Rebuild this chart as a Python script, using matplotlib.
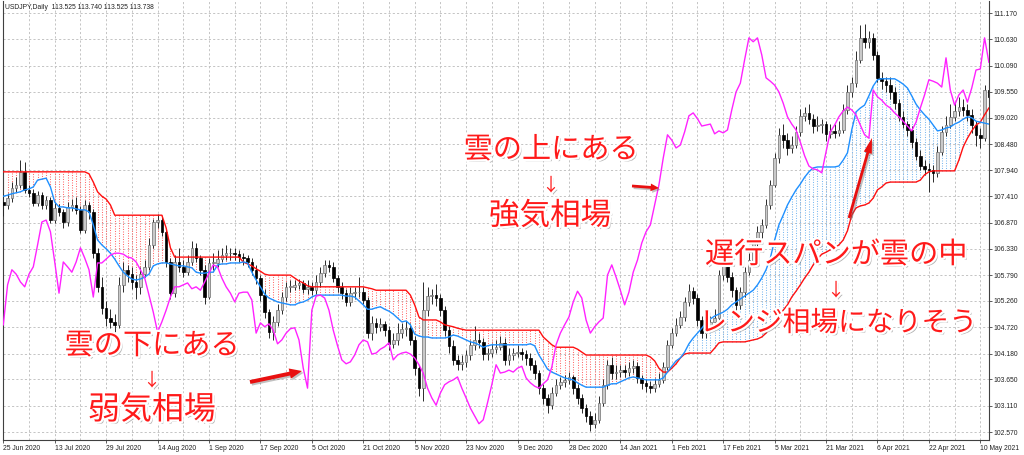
import matplotlib
matplotlib.use("Agg")
import matplotlib.pyplot as plt
import matplotlib.patheffects as pe
import numpy as np

# ---------------- data (USDJPY daily) ----------------
date_labels = ["25 Jun 2020", "13 Jul 2020", "29 Jul 2020", "14 Aug 2020", "1 Sep 2020",
               "17 Sep 2020", "5 Oct 2020", "21 Oct 2020", "5 Nov 2020", "23 Nov 2020",
               "9 Dec 2020", "28 Dec 2020", "14 Jan 2021", "1 Feb 2021", "17 Feb 2021",
               "5 Mar 2021", "21 Mar 2021", "6 Apr 2021", "22 Apr 2021", "10 May 2021"]

price_ticks = [102.57, 103.11, 103.65, 104.18, 104.72, 105.26, 105.79, 106.33, 106.87,
               107.41, 107.94, 108.48, 109.02, 109.55, 110.09, 110.63, 111.17]

opens = [107.30, 107.23, 107.37, 107.58, 107.64, 107.91, 107.54, 107.48, 107.27, 107.44,
         107.23, 107.33, 106.92, 107.17, 107.09, 106.88, 107.19, 107.23, 107.13, 106.72,
         107.23, 107.09, 106.24, 105.55, 105.12, 104.91, 104.83, 104.77, 105.59, 105.90,
         105.81, 105.65, 105.55, 105.81, 105.96, 106.41, 106.88, 106.92, 106.68, 106.06,
         105.42, 106.06, 105.96, 105.85, 106.06, 106.35, 106.14, 105.90, 105.34, 106.04,
         106.04, 106.12, 106.20, 106.24, 106.24, 106.22, 106.16, 106.14, 106.06, 105.90,
         105.73, 105.38, 105.03, 104.62, 104.83, 105.07, 105.34, 105.55, 105.55, 105.59,
         105.63, 105.51, 105.55, 105.48, 105.65, 105.83, 106.00, 105.96, 105.73, 105.55,
         105.42, 105.24, 105.42, 105.44, 105.44, 105.28, 104.60, 104.81, 104.73, 104.79,
         104.66, 104.38, 104.46, 104.60, 104.69, 104.71, 104.46, 103.88, 103.47, 105.07,
         105.36, 105.38, 105.32, 105.07, 104.66, 104.34, 104.05, 103.97, 104.01, 104.15,
         104.36, 104.46, 104.42, 104.17, 104.19, 104.27, 104.32, 104.40, 104.05, 104.15,
         104.19, 104.21, 104.17, 104.09, 103.95, 103.78, 103.47, 103.27, 103.12, 103.37,
         103.54, 103.60, 103.64, 103.70, 103.47, 103.27, 103.06, 102.90, 102.74, 102.82,
         103.17, 103.54, 103.95, 103.78, 103.80, 103.84, 103.80, 103.88, 103.92, 103.68,
         103.58, 103.51, 103.47, 103.56, 103.64, 103.90, 104.36, 104.60, 104.77, 104.93,
         105.24, 105.46, 105.32, 104.87, 104.60, 104.73, 104.83, 104.91, 105.79, 106.00,
         105.75, 105.48, 105.18, 105.44, 105.85, 106.10, 106.45, 106.68, 106.82, 107.23,
         107.64, 108.19, 108.67, 108.56, 108.40, 108.46, 108.73, 109.06, 109.12, 109.00,
         108.85, 108.87, 108.89, 108.69, 108.75, 108.71, 108.77, 109.18, 109.55, 109.73,
         110.21, 110.66, 110.58, 110.66, 110.31, 109.84, 109.77, 109.69, 109.55, 109.32,
         109.04, 108.89, 108.77, 108.52, 108.24, 108.03, 107.97, 107.95, 107.89, 108.32,
         108.73, 108.87, 109.04, 109.16, 109.24, 109.18, 109.08, 108.87, 108.67, 108.60,
         109.59]

highs = [107.45, 107.48, 107.70, 107.80, 108.15, 108.12, 107.65, 107.55, 107.52, 107.50,
         107.42, 107.40, 107.30, 107.25, 107.15, 107.30, 107.35, 107.40, 107.20, 107.33,
         107.30, 107.15, 106.35, 105.75, 105.25, 105.10, 105.00, 105.75, 106.05, 106.00,
         105.95, 105.80, 105.95, 106.10, 106.55, 106.95, 107.05, 107.00, 106.75, 106.15,
         106.20, 106.35, 106.10, 106.20, 106.50, 106.45, 106.20, 106.00, 106.15, 106.25,
         106.30, 106.35, 106.40, 106.35, 106.35, 106.30, 106.25, 106.20, 106.15, 106.00,
         105.80, 105.50, 105.10, 104.95, 105.20, 105.45, 105.65, 105.70, 105.70, 105.72,
         105.70, 105.68, 105.65, 105.80, 105.95, 106.10, 106.10, 106.05, 105.80, 105.65,
         105.50, 105.55, 105.55, 105.75, 105.55, 105.35, 104.95, 104.90, 104.90, 104.85,
         104.75, 104.60, 104.80, 104.80, 104.85, 104.80, 104.55, 103.95, 105.65, 105.55,
         105.50, 105.60, 105.40, 105.15, 104.75, 104.45, 104.15, 104.15, 104.25, 104.45,
         104.75, 104.60, 104.50, 104.30, 104.40, 104.45, 104.55, 104.50, 104.30, 104.30,
         104.35, 104.30, 104.25, 104.20, 104.05, 103.85, 103.55, 103.35, 103.50, 103.65,
         103.70, 103.75, 103.80, 103.75, 103.55, 103.35, 103.15, 103.00, 102.95, 103.30,
         103.65, 104.05, 104.10, 103.95, 103.95, 103.95, 104.00, 104.05, 104.00, 103.75,
         103.65, 103.62, 103.68, 103.78, 104.00, 104.45, 104.70, 104.90, 105.05, 105.35,
         105.60, 105.55, 105.40, 104.95, 104.85, 104.95, 105.10, 105.90, 106.20, 106.10,
         105.85, 105.55, 105.55, 105.95, 106.25, 106.55, 106.80, 106.95, 107.35, 107.75,
         108.30, 108.80, 108.90, 108.70, 108.65, 108.85, 109.20, 109.25, 109.30, 109.10,
         109.05, 109.00, 108.95, 108.90, 108.90, 108.95, 109.30, 109.70, 109.85, 110.40,
         110.92, 110.95, 110.80, 110.75, 110.40, 109.95, 109.85, 109.85, 109.65, 109.40,
         109.15, 108.95, 108.85, 108.60, 108.35, 108.15, 108.10, 108.05, 108.45, 108.85,
         109.05, 109.30, 109.35, 109.45, 109.40, 109.30, 109.20, 108.95, 108.80, 109.70,
         109.75]

lows = [107.00, 107.15, 107.30, 107.50, 107.58, 107.48, 107.40, 107.20, 107.20, 107.15,
        107.15, 106.85, 106.85, 107.00, 106.75, 106.80, 107.10, 107.05, 106.65, 106.65,
        106.95, 106.15, 105.45, 105.00, 104.75, 104.70, 104.63, 104.70, 105.45, 105.65,
        105.50, 105.30, 105.40, 105.75, 105.90, 106.35, 106.75, 106.60, 105.95, 105.30,
        105.35, 105.85, 105.75, 105.80, 106.00, 106.05, 105.80, 105.20, 105.30, 105.90,
        105.95, 106.05, 106.10, 106.10, 106.10, 106.05, 106.00, 105.95, 105.80, 105.60,
        105.25, 104.90, 104.50, 104.45, 104.75, 105.00, 105.25, 105.45, 105.48, 105.50,
        105.42, 105.40, 105.38, 105.40, 105.55, 105.75, 105.85, 105.65, 105.45, 105.30,
        105.15, 105.15, 105.30, 105.35, 105.20, 104.50, 104.45, 104.60, 104.65, 104.55,
        104.25, 104.30, 104.35, 104.50, 104.55, 104.35, 103.75, 103.30, 103.20, 104.95,
        105.20, 105.15, 104.95, 104.55, 104.20, 103.95, 103.85, 103.85, 103.90, 104.05,
        104.25, 104.30, 104.05, 104.05, 104.10, 104.20, 104.25, 103.95, 103.95, 104.05,
        104.10, 104.05, 103.95, 103.85, 103.65, 103.35, 103.15, 102.95, 103.05, 103.30,
        103.45, 103.50, 103.55, 103.35, 103.15, 102.95, 102.78, 102.60, 102.65, 102.75,
        103.10, 103.45, 103.65, 103.65, 103.70, 103.70, 103.72, 103.78, 103.58, 103.45,
        103.40, 103.38, 103.40, 103.50, 103.58, 103.85, 104.30, 104.55, 104.70, 104.85,
        105.15, 105.20, 104.75, 104.50, 104.50, 104.65, 104.75, 104.85, 105.70, 105.65,
        105.35, 105.05, 105.10, 105.35, 105.80, 106.05, 106.35, 106.55, 106.75, 107.15,
        107.60, 108.10, 108.40, 108.25, 108.30, 108.40, 108.65, 108.95, 108.90, 108.70,
        108.75, 108.70, 108.55, 108.60, 108.60, 108.65, 108.70, 109.10, 109.45, 109.65,
        110.15, 110.45, 110.45, 110.20, 109.75, 109.60, 109.55, 109.40, 109.20, 108.95,
        108.80, 108.65, 108.40, 108.15, 107.95, 107.85, 107.50, 107.70, 107.80, 108.25,
        108.65, 108.80, 108.95, 109.05, 109.05, 108.95, 108.70, 108.45, 108.40, 108.55,
        109.35]

closes = [107.23, 107.37, 107.58, 107.64, 107.91, 107.54, 107.48, 107.27, 107.44, 107.23,
          107.33, 106.92, 107.17, 107.09, 106.88, 107.19, 107.23, 107.13, 106.72, 107.23,
          107.09, 106.24, 105.55, 105.12, 104.91, 104.83, 104.77, 105.59, 105.90, 105.81,
          105.65, 105.55, 105.81, 105.96, 106.41, 106.88, 106.92, 106.68, 106.06, 105.42,
          106.06, 105.96, 105.85, 106.06, 106.35, 106.14, 105.90, 105.34, 106.04, 106.04,
          106.12, 106.20, 106.24, 106.24, 106.22, 106.16, 106.14, 106.06, 105.90, 105.73,
          105.38, 105.03, 104.62, 104.83, 105.07, 105.34, 105.55, 105.55, 105.59, 105.63,
          105.51, 105.55, 105.48, 105.65, 105.83, 106.00, 105.96, 105.73, 105.55, 105.42,
          105.24, 105.42, 105.44, 105.44, 105.28, 104.60, 104.81, 104.73, 104.79, 104.66,
          104.38, 104.46, 104.60, 104.69, 104.71, 104.46, 103.88, 103.47, 105.07, 105.36,
          105.38, 105.32, 105.07, 104.66, 104.34, 104.05, 103.97, 104.01, 104.15, 104.36,
          104.46, 104.42, 104.17, 104.19, 104.27, 104.32, 104.40, 104.05, 104.15, 104.19,
          104.21, 104.17, 104.09, 103.95, 103.78, 103.47, 103.27, 103.12, 103.37, 103.54,
          103.60, 103.64, 103.70, 103.47, 103.27, 103.06, 102.90, 102.74, 102.82, 103.17,
          103.54, 103.95, 103.78, 103.80, 103.84, 103.80, 103.88, 103.92, 103.68, 103.58,
          103.51, 103.47, 103.56, 103.64, 103.90, 104.36, 104.60, 104.77, 104.93, 105.24,
          105.46, 105.32, 104.87, 104.60, 104.73, 104.83, 104.91, 105.79, 106.00, 105.75,
          105.48, 105.18, 105.44, 105.85, 106.10, 106.45, 106.68, 106.82, 107.23, 107.64,
          108.19, 108.67, 108.56, 108.40, 108.46, 108.73, 109.06, 109.12, 109.00, 108.85,
          108.87, 108.89, 108.69, 108.75, 108.71, 108.77, 109.18, 109.55, 109.73, 110.21,
          110.66, 110.58, 110.66, 110.31, 109.84, 109.77, 109.69, 109.55, 109.32, 109.04,
          108.89, 108.77, 108.52, 108.24, 108.03, 107.97, 107.95, 107.89, 108.32, 108.73,
          108.87, 109.04, 109.16, 109.24, 109.18, 109.08, 108.87, 108.67, 108.60, 109.59,
          109.45]

# closes of the 26 bars after the visible window (only seen through the lagging span)
closes_ahead = [109.38, 109.28, 109.22, 109.12, 109.04, 108.95, 108.85, 108.75, 108.93, 109.22,
                109.49, 109.80, 109.77, 109.73, 109.65, 110.25, 109.59, 109.28, 109.49, 109.59,
                109.34, 109.63, 110.00, 110.02, 110.66, 110.16]

span_a = [107.41, 107.43, 107.46, 107.48, 107.50, 107.54, 107.56, 107.60, 107.74, 107.76,
          107.78, 107.60, 107.29, 107.19, 107.19, 107.17, 107.17, 107.15, 107.13, 107.13,
          107.09, 106.82, 106.51, 106.41, 106.33, 106.24, 106.12, 105.98, 105.85, 105.77,
          105.71, 105.69, 105.71, 105.75, 105.81, 105.98, 106.02, 106.04, 106.04, 106.02,
          106.00, 105.98, 105.98, 105.96, 105.94, 105.85, 105.83, 105.83, 105.85, 105.85,
          106.00, 106.02, 106.02, 106.04, 106.04, 106.04, 106.06, 106.04, 105.85, 105.69,
          105.55, 105.40, 105.32, 105.28, 105.24, 105.22, 105.20, 105.18, 105.18, 105.22,
          105.24, 105.28, 105.34, 105.38, 105.38, 105.38, 105.38, 105.38, 105.38, 105.38,
          105.36, 105.36, 105.34, 105.26, 105.18, 105.09, 105.09, 105.12, 105.14, 105.09,
          105.05, 104.99, 104.91, 104.83, 104.85, 104.77, 104.58, 104.54, 104.52, 104.52,
          104.50, 104.50, 104.50, 104.50, 104.52, 104.56, 104.54, 104.50, 104.46, 104.42,
          104.40, 104.36, 104.31, 104.34, 104.36, 104.36, 104.36, 104.36, 104.36, 104.36,
          104.36, 104.36, 104.36, 104.38, 104.34, 104.15, 104.01, 103.86, 103.80, 103.76,
          103.72, 103.68, 103.66, 103.64, 103.58, 103.53, 103.49, 103.49, 103.49, 103.49,
          103.49, 103.53, 103.56, 103.56, 103.60, 103.64, 103.68, 103.70, 103.68, 103.66,
          103.64, 103.64, 103.64, 103.64, 103.68, 103.80, 103.92, 104.03, 104.09, 104.21,
          104.38, 104.50, 104.60, 104.70, 104.81, 104.89, 104.95, 104.99, 105.03, 105.09,
          105.18, 105.24, 105.30, 105.36, 105.42, 105.48, 105.59, 105.73, 105.90, 106.14,
          106.51, 106.82, 107.02, 107.23, 107.39, 107.54, 107.66, 107.80, 107.91, 107.99,
          108.01, 108.01, 108.01, 108.01, 108.01, 108.03, 108.15, 108.30, 108.77, 109.14,
          109.22, 109.28, 109.47, 109.67, 109.80, 109.82, 109.82, 109.82, 109.82, 109.77,
          109.71, 109.63, 109.47, 109.30, 109.18, 109.08, 108.99, 108.87, 108.75, 108.77,
          108.81, 108.83, 108.89, 108.93, 108.99, 109.04, 109.02, 108.95, 108.93, 108.91,
          108.89]

span_b = [107.91, 107.91, 107.91, 107.91, 107.91, 107.91, 107.91, 107.91, 107.91, 107.91,
          107.91, 107.91, 107.91, 107.91, 107.91, 107.91, 107.91, 107.91, 107.91, 107.91,
          107.87, 107.70, 107.50, 107.41, 107.35, 107.23, 107.02, 107.02, 107.02, 107.02,
          107.02, 107.02, 107.02, 107.02, 107.02, 107.02, 107.02, 107.02, 106.76, 106.35,
          106.16, 106.16, 106.16, 106.16, 106.16, 106.16, 106.16, 106.16, 106.16, 106.16,
          106.16, 106.16, 106.16, 106.16, 106.16, 106.16, 106.06, 106.02, 105.98, 105.92,
          105.87, 105.81, 105.79, 105.79, 105.79, 105.79, 105.79, 105.79, 105.73, 105.67,
          105.63, 105.57, 105.55, 105.55, 105.55, 105.55, 105.55, 105.55, 105.55, 105.55,
          105.55, 105.55, 105.55, 105.55, 105.55, 105.53, 105.51, 105.48, 105.48, 105.48,
          105.48, 105.48, 105.48, 105.48, 105.48, 105.38, 105.18, 104.93, 104.87, 104.87,
          104.87, 104.87, 104.83, 104.77, 104.75, 104.73, 104.70, 104.68, 104.66, 104.66,
          104.66, 104.66, 104.66, 104.66, 104.66, 104.66, 104.66, 104.66, 104.66, 104.66,
          104.66, 104.66, 104.66, 104.66, 104.66, 104.66, 104.52, 104.44, 104.36, 104.31,
          104.31, 104.31, 104.31, 104.31, 104.27, 104.21, 104.15, 104.15, 104.15, 104.15,
          104.15, 104.15, 104.15, 104.15, 104.15, 104.15, 104.15, 104.15, 104.15, 104.15,
          104.15, 104.11, 104.03, 103.88, 103.80, 103.80, 103.88, 103.97, 104.09, 104.17,
          104.19, 104.19, 104.19, 104.19, 104.19, 104.19, 104.29, 104.40, 104.42, 104.42,
          104.42, 104.42, 104.42, 104.42, 104.44, 104.46, 104.48, 104.52, 104.60, 104.73,
          104.83, 104.93, 105.07, 105.18, 105.34, 105.46, 105.59, 105.73, 105.85, 106.00,
          106.12, 106.22, 106.26, 106.31, 106.35, 106.41, 106.51, 106.70, 107.02, 107.17,
          107.21, 107.23, 107.27, 107.37, 107.54, 107.60, 107.68, 107.70, 107.70, 107.70,
          107.70, 107.70, 107.70, 107.70, 107.74, 107.85, 107.91, 107.93, 107.93, 107.93,
          107.93, 107.93, 107.93, 108.15, 108.42, 108.60, 108.75, 108.87, 108.93, 109.08,
          109.22]

LAG = 26  # Chikou span: close plotted 26 bars back

# ---------------- figure ----------------
W, H = 1024, 455
fig = plt.figure(figsize=(W / 100, H / 100), dpi=100)
fig.patch.set_facecolor("white")
ax = fig.add_axes([3 / W, (H - 440) / H, 986 / W, 439 / H])
ax.set_facecolor("white")

O = np.array(opens); Hh = np.array(highs); L = np.array(lows); C = np.array(closes)
A = np.array(span_a); B = np.array(span_b)
n = len(C)
x = np.arange(n)
lag = np.array(closes + closes_ahead)[LAG:LAG + n]

ax.set_xlim(-0.07, 230.03)
ax.set_ylim(111.437 - 440 / 48.72, 111.437 - 1 / 48.72)

# grid
for t in price_ticks:
    ax.axhline(t, color="#c4c4c4", lw=0.7, ls=(0, (2.2, 2.2)), zorder=0)
for b in range(0, n, 6):
    ax.axvline(b, color="#c4c4c4", lw=0.7, ls=(0, (2.2, 2.2)), zorder=0)

# cloud (dotted histogram between the spans)
lo = np.minimum(A, B); hi = np.maximum(A, B)
cols = np.where(A > B, "#7fbaf0", "#ff6e6e")
ax.vlines(x, lo, hi, colors=list(cols), linestyles=(0, (1.0, 1.4)), lw=0.75, zorder=1)

# candles
ax.vlines(x, L, Hh, color="#2a2a2a", lw=0.7, zorder=3)
up = C >= O
body_lo = np.minimum(O, C)
body_h = np.maximum(np.abs(C - O), 0.012)
ax.bar(x[up], body_h[up], bottom=body_lo[up], width=0.62, color="#c9c9c9",
       edgecolor="#707070", lw=0.5, zorder=4)
ax.bar(x[~up], body_h[~up], bottom=body_lo[~up], width=0.62, color="#000000",
       edgecolor="#000000", lw=0.5, zorder=4)

# ichimoku lines
ax.plot(x, B, color="#ff1010", lw=1.0, zorder=5)
ax.plot(x, A, color="#1e90ff", lw=1.0, zorder=5)
ax.plot(x, lag, color="#ff22ff", lw=1.0, zorder=6)

# axes styling
for s in ["left", "bottom", "right"]:
    ax.spines[s].set_color("#404040")
    ax.spines[s].set_linewidth(0.8)
ax.spines["top"].set_visible(False)
ax.yaxis.tick_right()
ax.set_yticks(price_ticks)
ax.set_yticklabels([f"{t:.3f}" for t in price_ticks])
ax.set_xticks(list(range(0, n, 12)))
ax.set_xticklabels(date_labels, ha="left")
ax.tick_params(axis="both", length=2, width=0.6, color="#404040", labelsize=4.9,
               labelcolor="#222222", pad=1.5)
for lab in ax.get_xticklabels() + ax.get_yticklabels():
    lab.set_fontfamily(["Liberation Sans", "DejaVu Sans"])

fig.text(5 / W, 1 - 7.5 / H, "USDJPY,Daily  113.525 113.740 113.525 113.738",
         fontsize=4.9, family=["Liberation Sans", "DejaVu Sans"], color="#222222",
         va="center", ha="left")

# ---------------- annotations ----------------
jp = ["Noto Sans CJK JP", "DejaVu Sans"]
txt_fx = [pe.SimplePatchShadow(offset=(1.6, -1.6), shadow_rgbFace="#555555", alpha=0.45),
          pe.Stroke(linewidth=3.2, foreground="white"), pe.Normal()]
red = "#ff1a1a"

def label(px, py, s, size):
    fig.text(px / W, 1 - py / H, s, fontsize=size, family=jp, color=red,
             ha="center", va="center", path_effects=txt_fx, zorder=10)

label(551, 150, "雲の上にある", 21)
label(551, 186, "↓", 13)
label(550, 216, "強気相場", 22)
label(152, 346, "雲の下にある", 21)
label(152, 381, "↓", 13)
label(152, 410, "弱気相場", 23)
label(836, 255, "遅行スパンが雲の中", 21)
label(836, 291, "↓", 13)
label(838, 323, "レンジ相場になりそう", 20)

arrow_fx = [pe.SimplePatchShadow(offset=(1.2, -1.2), shadow_rgbFace="#666666", alpha=0.4),
            pe.Normal()]

def arrow(tx, ty, hx, hy, hw, hl, tw):
    ax.annotate("", xy=(hx, H - hy), xytext=(tx, H - ty),
                xycoords="figure pixels", textcoords="figure pixels",
                arrowprops=dict(arrowstyle=f"simple,head_width={hw},head_length={hl},tail_width={tw}",
                                color="#e81010", lw=0, shrinkA=0, shrinkB=0,
                                path_effects=arrow_fx), zorder=9)

arrow(250, 382, 302, 371, 0.75, 0.9, 0.28)
arrow(632, 186, 659, 188, 0.55, 0.6, 0.2)
arrow(849, 218, 872, 138, 0.6, 1.1, 0.2)

fig.savefig("out.png", dpi=100, facecolor="white")
